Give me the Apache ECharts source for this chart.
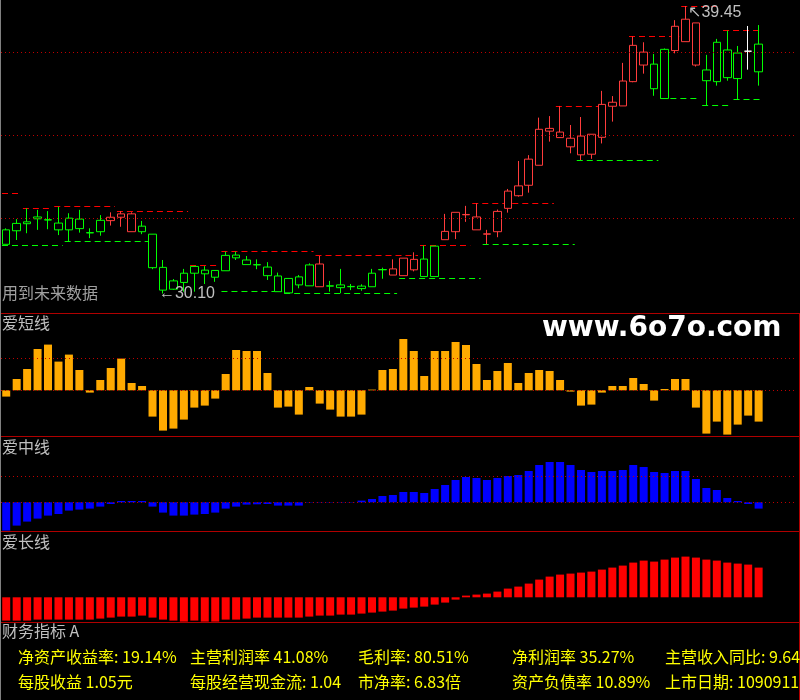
<!DOCTYPE html>
<html><head><meta charset="utf-8">
<script src="https://cdn.jsdelivr.net/npm/echarts@6/dist/echarts.min.js"></script>
<style>html,body{margin:0;padding:0;background:#000;}#c{width:800px;height:700px;}</style>
</head><body><div id="c"></div>
<script>
// ---------- data ----------
const categories = Array.from({length: 73}, (_, i) => 'D' + (i + 1));
const opens = [31.70,32.14,32.37,32.59,32.50,32.39,32.17,32.52,32.08,32.11,
  32.47,32.58,32.69,32.11,32.03,30.95,30.24,30.46,30.76,30.86,
  30.63,30.84,31.35,31.19,31.03,30.96,30.67,30.12,30.64,30.35,
  31.06,30.34,30.38,30.33,30.26,30.32,30.87,30.90,30.68,31.21,
  31.22,30.65,31.85,32.11,32.66,32.59,32.03,32.11,32.87,33.60,
  33.62,34.27,35.38,35.35,35.15,35.22,34.63,35.18,36.19,36.20,
  36.99,37.95,37.56,36.44,38.00,38.29,38.90,37.37,36.99,38.02,
  37.09,37.98,38.21];
const closes = [32.17,32.38,32.43,32.53,32.49,32.17,32.55,32.21,32.07,32.48,
  32.58,32.69,32.11,32.29,30.94,30.21,30.51,30.76,30.98,30.74,
  30.85,31.34,31.26,31.04,31.04,30.68,30.16,30.59,30.38,31.03,
  30.32,30.35,30.29,30.32,30.34,30.76,30.88,30.70,31.25,30.87,
  30.65,31.64,32.12,32.74,32.67,32.17,32.04,32.77,33.43,33.28,
  34.47,35.44,35.47,35.17,34.87,34.61,35.28,36.25,36.32,37.01,
  38.17,37.53,36.76,38.04,38.79,39.02,37.53,37.02,38.27,37.12,
  37.92,37.98,37.31];
const lows = [31.70,31.84,32.06,32.17,32.19,32.00,31.78,32.08,31.90,31.98,
  32.31,32.27,32.11,32.03,30.89,30.10,30.22,30.16,30.16,30.41,
  30.48,30.84,31.19,31.04,30.89,30.54,30.16,30.12,30.27,30.35,
  30.32,30.16,30.11,30.21,30.19,30.32,30.58,30.70,30.68,30.82,
  30.65,30.65,31.85,31.87,32.43,32.17,31.71,31.93,32.73,33.25,
  33.38,34.27,35.04,35.17,34.66,34.44,34.48,34.98,35.69,36.20,
  36.97,37.25,36.53,36.44,37.91,38.29,37.48,36.22,36.86,37.02,
  36.42,37.38,36.86];
const highs = [32.22,32.52,32.87,32.82,32.78,32.92,32.71,32.82,32.22,32.65,
  32.74,32.78,32.74,32.46,32.03,31.19,30.57,30.90,31.00,30.99,
  30.85,31.46,31.46,31.32,31.21,31.12,30.78,30.59,30.70,31.08,
  31.32,30.51,30.90,30.41,30.40,30.90,30.94,31.21,31.25,31.44,
  31.66,31.64,32.69,32.74,32.95,33.03,32.17,32.83,33.50,34.41,
  34.60,35.82,35.87,36.20,35.58,35.84,35.28,36.69,36.52,37.60,
  38.46,38.27,37.89,38.07,38.99,39.45,38.90,37.86,38.38,38.65,
  38.15,38.80,38.83];
// trend state of each bar: 1 = red, -1 = green, 0 = white
const trend = [-1,-1,-1,-1,-1,-1,-1,-1,-1,-1,
  1,1,1,-1,-1,-1,-1,-1,-1,-1,
  -1,-1,-1,-1,-1,-1,-1,-1,-1,-1,
  1,-1,-1,-1,-1,-1,-1,1,1,1,
  -1,-1,1,1,1,1,1,1,1,1,
  1,1,1,1,1,1,1,1,1,1,
  1,1,-1,-1,1,1,1,-1,-1,-1,
  -1,0,-1];
// resistance / support segments: [startBar, endBar, price]
const resistSegs = [[0,1,33.36],[2,4,32.87],[5,10,32.95],[11,17,32.77],[18,20,31.03],
  [21,29,31.47],[30,39,31.34],[40,44,31.67],[45,52,33.03],[53,57,36.19],
  [60,64,38.46],[65,68,39.45],[69,72,38.66]];
const supportSegs = [[0,5,31.68],[6,14,31.80],[21,26,30.17],[27,37,30.11],[38,45,30.59],
  [46,54,31.70],[55,62,34.43],[63,66,36.45],[67,69,36.22],[70,72,36.42]];
const priceGuides = [37.94, 35.25, 32.54];
const lowMark = [15, 30.10];
const highMark = [65, 39.45];

const shortLine = [-6.3,11.3,21.3,41.3,45.7,28.7,35.7,20.3,-2.3,10.3,
  22.3,31.7,7.3,4.3,-26.3,-40.3,-38.3,-29.3,-17.3,-15.3,
  -8.3,16.3,40.3,39.3,39.3,17.3,-17.3,-16.3,-24.3,3.3,
  -13.3,-19.3,-26.3,-26.3,-24.3,0.7,20.3,21.3,51.3,39.3,
  14.3,39.3,39.3,48.3,45.3,26.3,10.3,19.3,27.3,7.3,
  17.3,20.3,19.3,10.3,-1.3,-15.3,-14.3,-2.3,4.3,4.3,
  12.3,6.3,-10.3,1.3,11.3,11.3,-17.3,-43.3,-31.3,-44.3,
  -34.3,-25.3,-31.3];
const shortGuides = [0, 32];
const midLine = [-28.3,-23.3,-19.3,-16.3,-13.3,-11.7,-8.3,-7.3,-6.3,-4.3,
  -1.7,1.3,1.3,1.3,-4.3,-10.3,-13.3,-13.3,-12.3,-11.7,
  -10.3,-6.3,-4.3,-2.3,-2,-1.7,-3.3,-3.3,-3.3,-0.3,
  -0.3,-0.3,-0.3,-0.3,1.7,3.3,6.3,7.3,10.3,10.3,
  9.3,13.3,17.3,22.3,25.3,24.3,22.3,24.3,26.3,27.3,
  31.3,37.3,40.3,40.3,37.3,32.3,30.3,31.3,31.3,32.3,
  37.3,35.3,30.3,29.3,31.3,31.3,23.3,14.3,12.3,4.3,
  1.3,-1.7,-6.3];
const midGuides = [0, 25.7];
const longLine = [-23.3,-23.3,-23.3,-22.3,-22.3,-22.3,-22.3,-22.3,-22.3,-21.3,
  -20.3,-19.3,-19.3,-18.3,-20.3,-22.3,-23.3,-24.3,-23.3,-24.3,
  -24.3,-22.3,-22.3,-21.3,-20.3,-20.3,-20.3,-20.3,-20.3,-19.3,
  -18.3,-18.3,-17.3,-17.3,-16.3,-15.3,-14.3,-13.3,-11.3,-10.3,
  -9.3,-7.3,-5.3,-2.3,1.7,2.7,3.7,5.7,8.7,10.7,
  13.7,17.7,20.7,22.7,23.7,24.7,25.7,27.7,29.7,31.7,
  34.7,36.7,35.7,37.7,39.7,40.7,39.7,37.7,36.7,34.7,
  33.7,32.7,29.7];

const panelTitles = ['爱短线', '爱中线', '爱长线', '财务指标 A'];
const finRow1 = ['净资产收益率: 19.14%', '主营利润率 41.08%', '毛利率: 80.51%', '净利润率 35.27%', '主营收入同比: 9.64'];
const finRow2 = ['每股收益 1.05元', '每股经营现金流: 1.04', '市净率: 6.83倍', '资产负债率 10.89%', '上市日期: 1090911'];
const watermark = 'www.6o7o.com';

// ---------- build ----------
const PAD = 3;
const cats = categories.concat(Array.from({length: PAD}, (_, i) => 'pad' + i));
const W = cats.length * 10.45;

const RED_H = '#ff3c3c', RED_F = '#ff0000', GRN_H = '#00ff00', GRN_F = '#008000', WHITE = '#ffffff';
function candleStyle(t) {
  if (t > 0) return {color: '#000', borderColor: RED_H, color0: RED_F, borderColor0: RED_F};
  if (t < 0) return {color: '#000', borderColor: GRN_H, color0: GRN_F, borderColor0: GRN_F};
  return {color: '#000', borderColor: WHITE, color0: WHITE, borderColor0: WHITE};
}
const candleData = opens.map((o, i) => ({
  value: [o, closes[i], lows[i], highs[i]],
  itemStyle: candleStyle(trend[i])
}));

const segData = resistSegs.map(s => [s[0], s[1], s[2], 1])
  .concat(supportSegs.map(s => [s[0], s[1], s[2], -1]));

const DOT = {color: '#c00000', type: [1, 3], width: 1};
const guideLines = arr => arr.map(v => ({yAxis: v, lineStyle: DOT}));
const mlBase = {symbol: ['none', 'none'], silent: true, label: {show: false}, emphasis: {disabled: true}, animation: false};

const GRAY = '#c0c0c0';
const numFont = 'Liberation Sans';
const cjk = '"Noto Sans CJK SC"';

const graphic = [];
[313, 436, 531, 622].forEach(y => graphic.push({type: 'line', silent: true, z: 10,
  shape: {x1: 0, y1: y + 0.5, x2: 800, y2: y + 0.5}, style: {stroke: '#b00000', lineWidth: 1}}));
graphic.push({type: 'line', silent: true, z: 10, shape: {x1: 799.5, y1: 313, x2: 799.5, y2: 700}, style: {stroke: '#b00000', lineWidth: 1}});
graphic.push({type: 'line', silent: true, z: 10, shape: {x1: 0.5, y1: 0, x2: 0.5, y2: 700}, style: {stroke: '#808080', lineWidth: 1}});
const titleY = [323, 447, 542, 631];
panelTitles.forEach((t, i) => graphic.push({type: 'text', silent: true, z: 10, x: 2, y: titleY[i],
  style: {text: t, fill: GRAY, font: '16px ' + cjk, verticalAlign: 'middle'}}));
graphic.push({type: 'text', silent: true, z: 10, x: 2, y: 293,
  style: {text: '用到未来数据', fill: '#a0a0a0', font: '16px ' + cjk, verticalAlign: 'middle'}});
graphic.push({type: 'text', silent: true, z: 10, x: 542, y: 329,
  style: {text: watermark, fill: '#ffffff', font: 'bold 28px "DejaVu Sans"', verticalAlign: 'middle'}});
const finX = [18, 190, 358, 512, 665];
finRow1.forEach((t, i) => graphic.push({type: 'text', silent: true, z: 10, x: finX[i], y: 657,
  style: {text: t, fill: '#ffff00', font: '16px ' + cjk, verticalAlign: 'middle'}}));
finRow2.forEach((t, i) => graphic.push({type: 'text', silent: true, z: 10, x: finX[i], y: 682,
  style: {text: t, fill: '#ffff00', font: '16px ' + cjk, verticalAlign: 'middle'}}));

const option = {
  backgroundColor: '#000',
  animation: false,
  grid: [
    {left: 1, top: 0, width: W, height: 313},
    {left: 1, top: 314, width: W, height: 122},
    {left: 1, top: 437, width: W, height: 94},
    {left: 1, top: 532, width: W, height: 90}
  ],
  xAxis: [0, 1, 2, 3].map(i => ({type: 'category', gridIndex: i, data: cats, show: false, boundaryGap: true})),
  yAxis: [
    {type: 'value', gridIndex: 0, min: 29.466, max: 39.645, show: false, splitLine: {show: false}},
    {type: 'value', gridIndex: 1, min: -45.7, max: 76.3, show: false, splitLine: {show: false}},
    {type: 'value', gridIndex: 2, min: -28.7, max: 65.3, show: false, splitLine: {show: false}},
    {type: 'value', gridIndex: 3, min: -24.7, max: 65.3, show: false, splitLine: {show: false}}
  ],
  series: [
    {
      type: 'custom', xAxisIndex: 0, yAxisIndex: 0, silent: true, z: 1,
      data: segData,
      encode: {x: [0, 1], y: 2},
      renderItem: function (params, api) {
        const p = api.value(2);
        const a = api.coord([api.value(0), p]);
        const b = api.coord([api.value(1), p]);
        const half = api.size([1, 0])[0] / 2;
        const y = Math.round(a[1]) + 0.5;
        return {
          type: 'line',
          shape: {x1: a[0] - half + 1, y1: y, x2: b[0] + half - 1, y2: y},
          style: {stroke: api.value(3) > 0 ? '#ff0000' : '#00ff00', lineWidth: 1, lineDash: [6, 4]}
        };
      }
    },
    {
      type: 'candlestick', xAxisIndex: 0, yAxisIndex: 0, barWidth: 8, z: 3,
      data: candleData,
      itemStyle: {borderWidth: 1},
      markLine: Object.assign({}, mlBase, {data: guideLines(priceGuides)}),
      markPoint: {
        symbol: 'circle', symbolSize: 0, silent: true, animation: false,
        label: {show: true, position: 'right', distance: 0, color: GRAY, fontSize: 16, fontFamily: numFont},
        data: [
          {coord: [cats[lowMark[0]], lowMark[1]], label: {formatter: '←' + lowMark[1].toFixed(2), offset: [-4, 0]}},
          {coord: [cats[highMark[0]], highMark[1]], label: {formatter: '↖' + highMark[1].toFixed(2), offset: [3, 7]}}
        ]
      }
    },
    {
      type: 'bar', xAxisIndex: 1, yAxisIndex: 1, barWidth: 8, data: shortLine,
      itemStyle: {color: '#ffaa00'},
      markLine: Object.assign({}, mlBase, {data: guideLines(shortGuides)})
    },
    {
      type: 'bar', xAxisIndex: 2, yAxisIndex: 2, barWidth: 8, data: midLine,
      itemStyle: {color: '#0000ff'},
      markLine: Object.assign({}, mlBase, {data: guideLines(midGuides)})
    },
    {
      type: 'bar', xAxisIndex: 3, yAxisIndex: 3, barWidth: 8, data: longLine,
      itemStyle: {color: '#ff0000'}
    }
  ],
  graphic: graphic
};

const chart = echarts.init(document.getElementById('c'), null, {renderer: 'canvas', width: 800, height: 700});
chart.setOption(option);
</script>
</body></html>
